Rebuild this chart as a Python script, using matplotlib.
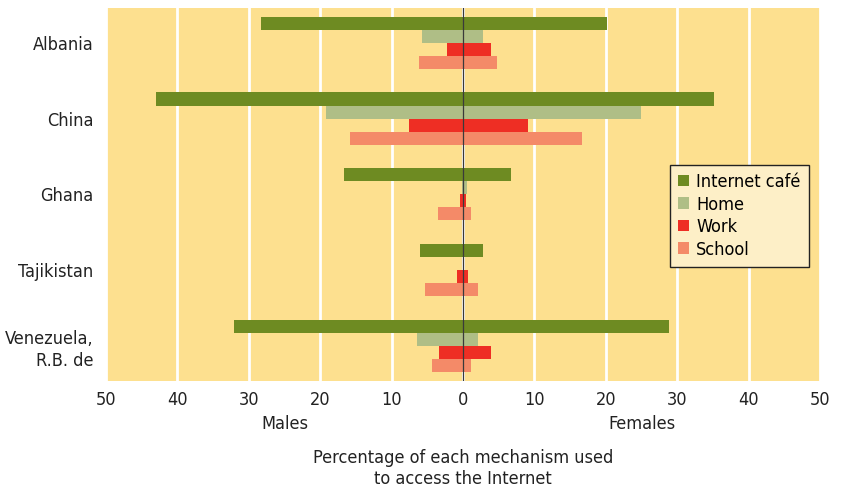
import numpy as np
import matplotlib.pyplot as plt
from matplotlib.patches import Patch

plt.rcParams['font.family'] = ['DejaVu Sans']
plt.rcParams['font.stretch'] = 'condensed'

countries = ['Albania', 'China', 'Ghana', 'Tajikistan', 'Venezuela,\nR.B. de']
mechanisms = ['Internet café', 'Home', 'Work', 'School']
colors = ['#6e8b22', '#afbe86', '#ee2e24', '#f48a68']

# percentages, males plotted to the left
males_cafe = [28.3, 43.0, 16.6, 6.0, 32.0]
males_home = [5.7, 19.2, 0.2, 0.0, 6.4]
males_work = [2.2, 7.5, 0.45, 0.8, 3.4]
males_school = [6.2, 15.8, 3.5, 5.3, 4.4]

females_cafe = [20.2, 35.1, 6.7, 2.8, 28.9]
females_home = [2.8, 24.9, 0.5, 0.0, 2.1]
females_work = [3.9, 9.1, 0.4, 0.7, 3.9]
females_school = [4.7, 16.7, 1.1, 2.1, 1.1]

males = [males_cafe, males_home, males_work, males_school]
females = [females_cafe, females_home, females_work, females_school]

fig = plt.figure(figsize=(8.41, 4.92), dpi=100)
ax = fig.add_axes([0.126, 0.226, 0.849, 0.758])
ax.set_facecolor('#fde08f')

y = np.arange(len(countries))
h = 0.172

for i in range(4):
    pos = y + (i - 1.5) * h
    ax.barh(pos, -np.array(males[i]), height=h, color=colors[i], zorder=2)
    ax.barh(pos, females[i], height=h, color=colors[i], zorder=2)

ax.axvline(0, color='#3a3a3a', linewidth=0.9, zorder=3)

ax.set_xlim(-50, 50)
ax.set_ylim(len(countries) - 0.54, -0.46)
ax.set_xticks(np.arange(-50, 51, 10))
ax.set_xticklabels([str(abs(v)) for v in range(-50, 51, 10)])
ax.set_yticks(y)
ax.set_yticklabels(countries, linespacing=1.3)
ax.tick_params(length=0, labelsize=13, colors='#222222')
ax.tick_params(axis='x', pad=7)
ax.tick_params(axis='y', pad=9)
ax.grid(axis='x', color='white', linewidth=2, zorder=1)
ax.set_axisbelow(True)
for s in ax.spines.values():
    s.set_visible(False)

ax.text(-25, -0.115, 'Males', transform=ax.get_xaxis_transform(),
        ha='center', va='center', fontsize=13, color='#222222')
ax.text(25, -0.115, 'Females', transform=ax.get_xaxis_transform(),
        ha='center', va='center', fontsize=13, color='#222222')
ax.text(0, -0.235, 'Percentage of each mechanism used\nto access the Internet',
        transform=ax.get_xaxis_transform(), ha='center', va='center',
        fontsize=13, color='#222222', linespacing=1.25)

handles = [Patch(facecolor=c, label=m) for c, m in zip(colors, mechanisms)]
leg = ax.legend(handles=handles, loc='upper left', bbox_to_anchor=(0.79, 0.579),
                borderaxespad=0, fontsize=13, frameon=True, fancybox=False,
                handlelength=0.6, handleheight=0.6, handletextpad=0.4,
                labelspacing=0.25, borderpad=0.45)
leg.get_frame().set_facecolor('#fdefc7')
leg.get_frame().set_edgecolor('#222222')
leg.get_frame().set_alpha(1)
leg.get_frame().set_linewidth(1)

plt.savefig('out.png', dpi=100)
